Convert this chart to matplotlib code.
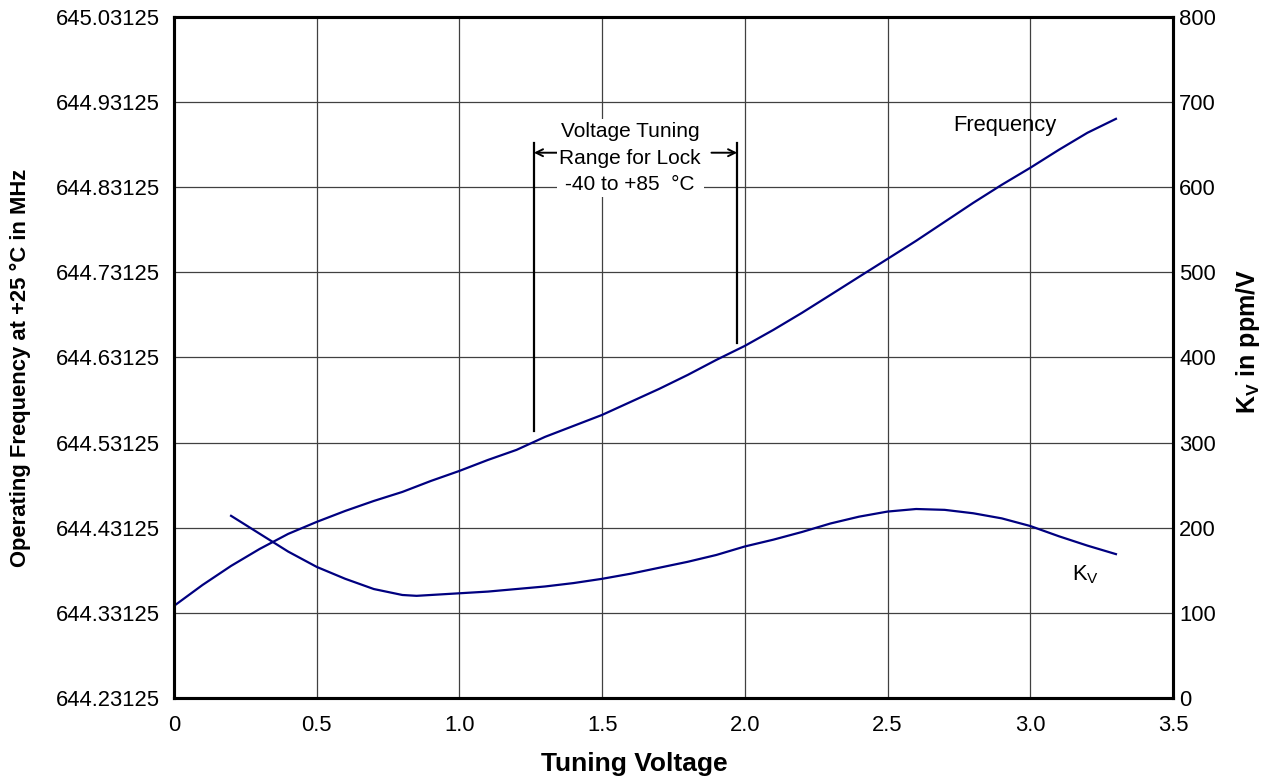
import matplotlib
matplotlib.use("Agg")
import matplotlib.pyplot as plt
import numpy as np

plt.rcParams['font.family'] = ['Liberation Sans', 'DejaVu Sans']
plt.rcParams['mathtext.fontset'] = 'custom'
plt.rcParams['mathtext.rm'] = 'Liberation Sans'

voltage = [0.0, 0.1, 0.2, 0.3, 0.4, 0.5, 0.6, 0.7, 0.8, 0.9, 1.0, 1.1, 1.2, 1.3,
           1.4, 1.5, 1.6, 1.7, 1.8, 1.9, 2.0, 2.1, 2.2, 2.3, 2.4, 2.5, 2.6, 2.7,
           2.8, 2.9, 3.0, 3.1, 3.2, 3.3]
frequency = [644.3394, 644.3640, 644.3864, 644.4063, 644.4240, 644.4381, 644.4510,
             644.4627, 644.4733, 644.4862, 644.4980, 644.5109, 644.5227, 644.5380,
             644.5509, 644.5638, 644.5791, 644.5944, 644.6108, 644.6284, 644.6449,
             644.6637, 644.6837, 644.7048, 644.7260, 644.7471, 644.7683, 644.7906,
             644.8129, 644.8341, 644.8541, 644.8752, 644.8952, 644.9116]

kv_voltage = [0.2, 0.3, 0.4, 0.5, 0.6, 0.7, 0.8, 0.85, 0.9, 1.0, 1.1, 1.2, 1.3, 1.4,
              1.5, 1.6, 1.7, 1.8, 1.9, 2.0, 2.1, 2.2, 2.3, 2.4, 2.5, 2.6, 2.7, 2.8,
              2.9, 3.0, 3.1, 3.2, 3.3]
kv = [214, 193, 172, 154, 140, 128, 121, 120, 121, 123, 125, 128, 131, 135,
      140, 146, 153, 160, 168, 178, 186, 195, 205, 213, 219, 222, 221, 217,
      211, 202, 190, 179, 169]

x_ticks = [0, 0.5, 1.0, 1.5, 2.0, 2.5, 3.0, 3.5]
x_tick_labels = ['0', '0.5', '1.0', '1.5', '2.0', '2.5', '3.0', '3.5']
freq_ticks = [644.23125, 644.33125, 644.43125, 644.53125, 644.63125, 644.73125,
              644.83125, 644.93125, 645.03125]
kv_ticks = [0, 100, 200, 300, 400, 500, 600, 700, 800]

lock_range = [1.261, 1.973]

navy = '#000080'
fs = 15.8

fig = plt.figure(figsize=(12.68, 7.79), dpi=100)
ax = fig.add_axes([0.1372, 0.1040, 0.7879, 0.8742])
ax2 = ax.twinx()

ax.set_xlim(0, 3.5)
ax.set_ylim(644.23125, 645.03125)
ax2.set_ylim(0, 800)

ax.set_xticks(x_ticks)
ax.set_xticklabels(x_tick_labels, fontsize=fs)
ax.set_yticks(freq_ticks)
ax.set_yticklabels(['%.5f' % t for t in freq_ticks], fontsize=fs)
ax2.set_yticks(kv_ticks)
ax2.set_yticklabels([str(t) for t in kv_ticks], fontsize=fs)

ax.tick_params(axis='x', length=0, pad=12)
ax.tick_params(axis='y', length=0, pad=10)
ax2.tick_params(axis='y', length=0, pad=4.5)

ax.grid(True, color='#404040', linewidth=0.9)
ax.set_axisbelow(True)

for a in (ax, ax2):
    for s in a.spines.values():
        s.set_linewidth(2.2)
        s.set_color('black')

ax.plot(voltage, frequency, color=navy, linewidth=1.6, zorder=3)
ax2.plot(kv_voltage, kv, color=navy, linewidth=1.6, zorder=3)

# lock range annotation
ax.plot([lock_range[0], lock_range[0]], [644.5450, 644.8834], color='black', linewidth=1.6, zorder=4)
ax.plot([lock_range[1], lock_range[1]], [644.6484, 644.8834], color='black', linewidth=1.6, zorder=4)
ax.annotate('', xy=(lock_range[0], 644.8718), xytext=(lock_range[0] + 0.085, 644.8718),
            arrowprops=dict(arrowstyle='->,head_length=0.5,head_width=0.25', color='black',
                            lw=1.4, shrinkA=0, shrinkB=0),
            zorder=5)
ax.annotate('', xy=(lock_range[1], 644.8718), xytext=(lock_range[1] - 0.09, 644.8718),
            arrowprops=dict(arrowstyle='->,head_length=0.5,head_width=0.25', color='black',
                            lw=1.4, shrinkA=0, shrinkB=0),
            zorder=5)
ax.text(1.598, 644.8655, 'Voltage Tuning\nRange for Lock\n-40 to +85  \u00b0C',
        ha='center', va='center', fontsize=15, linespacing=1.5, zorder=6,
        bbox=dict(facecolor='white', edgecolor='none', pad=2))

ax.text(2.912, 644.9034, 'Frequency', ha='center', va='center', fontsize=fs, zorder=6)
ax2.text(3.195, 145, 'K$_\\mathregular{V}$', ha='center', va='center', fontsize=fs, zorder=6)

ax.set_xlabel('Tuning Voltage', fontsize=19, fontweight='bold')
ax.xaxis.set_label_coords(0.461, -0.08)
ax.set_ylabel('Operating Frequency at +25 \u00b0C in MHz', fontsize=15.8, fontweight='bold')
ax.yaxis.set_label_coords(-0.143, 0.485)
ax2.set_ylabel('K$_\\mathregular{V}$ in ppm/V', fontsize=18, fontweight='bold')
ax2.yaxis.set_label_coords(1.061, 0.524)

fig.savefig('out.png', dpi=100)
